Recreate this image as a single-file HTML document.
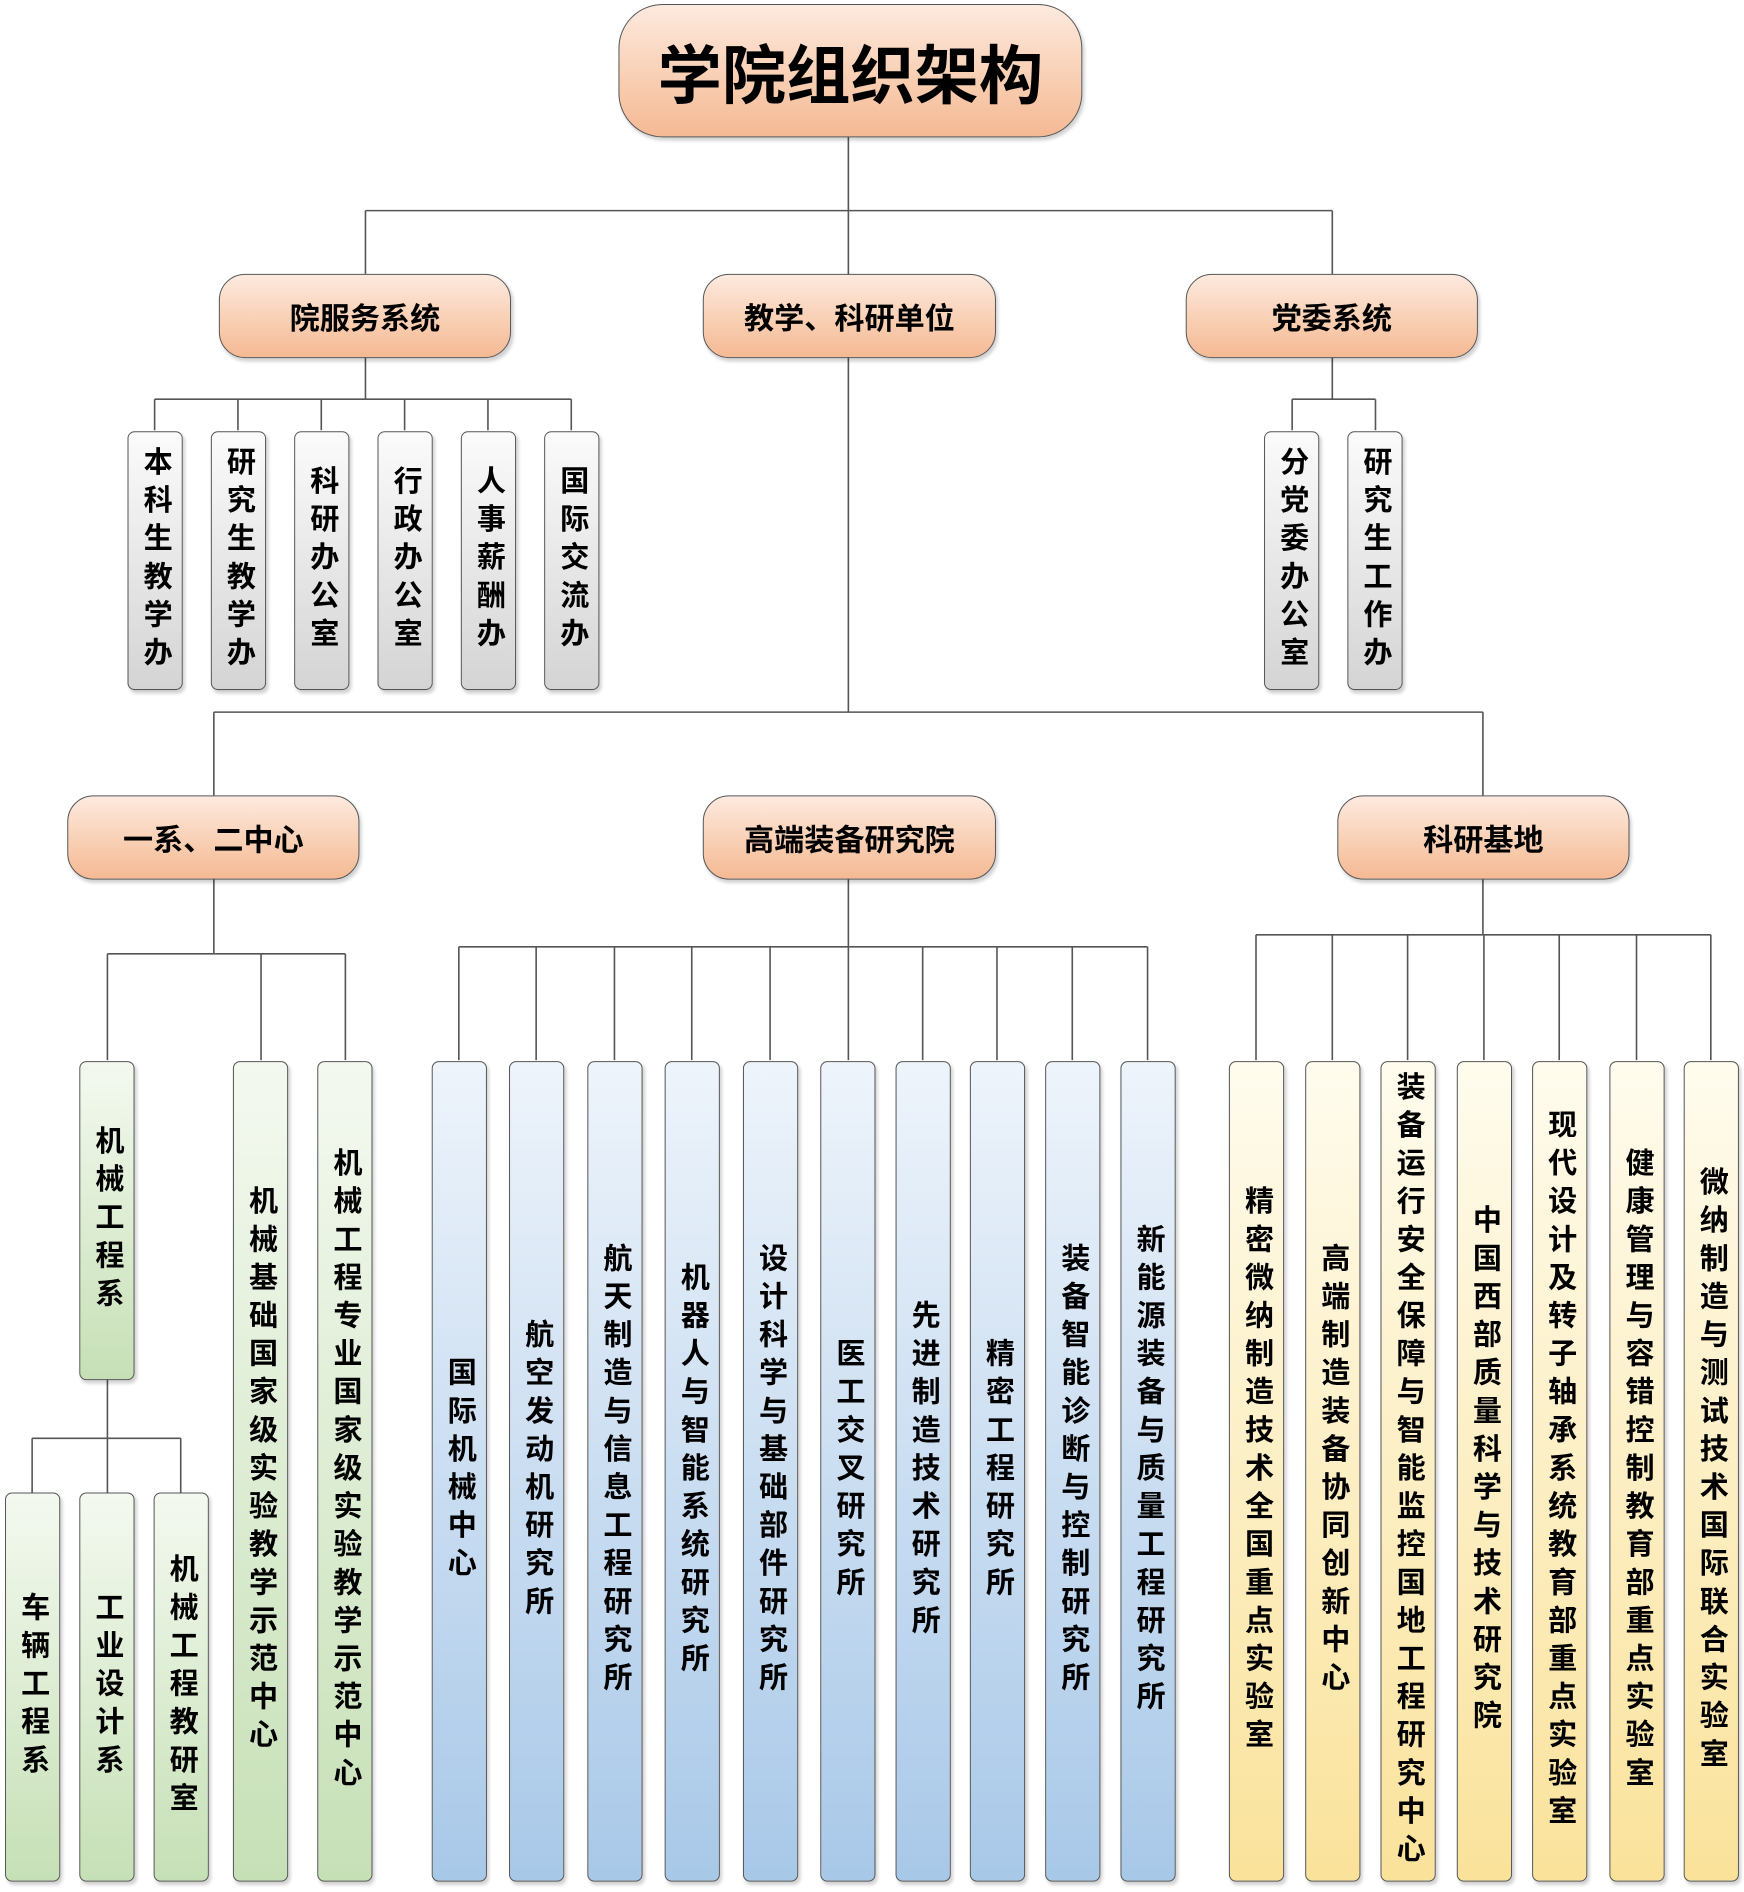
<!DOCTYPE html>
<html><head><meta charset="utf-8">
<style>
html,body{margin:0;padding:0;background:#fff;}
#w{width:1744px;height:1892px;overflow:hidden;position:relative;}
#c{position:relative;width:1744px;height:1892px;font-family:"Liberation Sans","Noto Sans CJK SC",sans-serif;font-weight:bold;color:#000;transform:scale(1.004,1.003);transform-origin:0 0;}
.b{position:absolute;box-sizing:border-box;border:1.5px solid #555;display:flex;align-items:center;justify-content:center;box-shadow:2px 3px 3px rgba(0,0,0,0.18);}
.p{background:linear-gradient(#fdeadf,#f8cdb0 60%,#f5b994);border-radius:26px;font-size:30px;}
.t{border-radius:44px;font-size:64px;}
.v{border-radius:7px;width:55px;font-size:29px;line-height:38px;}
.v span{writing-mode:vertical-rl;text-orientation:upright;letter-spacing:9px;}
.g{background:linear-gradient(#fbfbfb,#d4d4d4);}
.gr{background:linear-gradient(#f4f9f0,#c6e0b6);}
.bl{background:linear-gradient(#eef4fb,#a8c8e8);}
.y{background:linear-gradient(#fffcee,#fae29a);}
svg{position:absolute;left:0;top:0;}
</style></head><body><div id="w"><div id="c">
<svg width="1744" height="1892" stroke="#555" stroke-width="1.6" fill="none">
<path d="M845 136V710M364 210H1327M364 210V273M1327 210V273"/>
<path d="M364 356V398M154 398H569M154 398V429M237 398V429M320 398V429M403 398V429M486 398V429M569 398V429"/>
<path d="M1327 356V398M1287 398H1370M1287 398V429M1370 398V429"/>
<path d="M213 710H1477M213 710V793M1477 710V793"/>
<path d="M213 876V951M107 951H344M107 951V1057M260 951V1057M344 951V1057"/>
<path d="M107 1373V1434M32 1434H180M32 1434V1488M107 1434V1488M180 1434V1488"/>
<path d="M845 876V1057M457 944H1143M457 944V1057M534 944V1057M612 944V1057M689 944V1057M767 944V1057M919 944V1057M993 944V1057M1068 944V1057M1143 944V1057"/>
<path d="M1477 876V932M1251 932H1704M1251 932V1057M1327 932V1057M1402 932V1057M1478 932V1057M1553 932V1057M1630 932V1057M1704 932V1057"/>
</svg>
<div class="b p t" style="left:616px;top:4px;width:462px;height:133px;">学院组织架构</div>
<div class="b p" style="left:218px;top:273px;width:291px;height:84px;">院服务系统</div>
<div class="b p" style="left:700px;top:273px;width:292px;height:84px;">教学、科研单位</div>
<div class="b p" style="left:1181px;top:273px;width:291px;height:84px;">党委系统</div>
<div class="b p" style="left:67px;top:793px;width:291px;height:84px;">一系、二中心</div>
<div class="b p" style="left:700px;top:793px;width:292px;height:84px;">高端装备研究院</div>
<div class="b p" style="left:1332px;top:793px;width:291px;height:84px;">科研基地</div>

<div class="b v g" style="left:127px;top:430px;height:258px;"><span>本科生教学办</span></div>
<div class="b v g" style="left:210px;top:430px;height:258px;"><span>研究生教学办</span></div>
<div class="b v g" style="left:293px;top:430px;height:258px;"><span>科研办公室</span></div>
<div class="b v g" style="left:376px;top:430px;height:258px;"><span>行政办公室</span></div>
<div class="b v g" style="left:459px;top:430px;height:258px;"><span>人事薪酬办</span></div>
<div class="b v g" style="left:542px;top:430px;height:258px;"><span>国际交流办</span></div>
<div class="b v g" style="left:1259px;top:430px;height:258px;"><span>分党委办公室</span></div>
<div class="b v g" style="left:1342px;top:430px;height:258px;"><span>研究生工作办</span></div>

<div class="b v gr" style="left:79px;top:1058px;height:318px;"><span>机械工程系</span></div>
<div class="b v gr" style="left:232px;top:1058px;height:818px;"><span>机械基础国家级实验教学示范中心</span></div>
<div class="b v gr" style="left:316px;top:1058px;height:818px;"><span>机械工程专业国家级实验教学示范中心</span></div>
<div class="b v gr" style="left:5px;top:1488px;height:388px;"><span>车辆工程系</span></div>
<div class="b v gr" style="left:79px;top:1488px;height:388px;"><span>工业设计系</span></div>
<div class="b v gr" style="left:153px;top:1488px;height:388px;"><span>机械工程教研室</span></div>

<div class="b v bl" style="left:430px;top:1058px;height:818px;"><span>国际机械中心</span></div>
<div class="b v bl" style="left:507px;top:1058px;height:818px;"><span>航空发动机研究所</span></div>
<div class="b v bl" style="left:585px;top:1058px;height:818px;"><span>航天制造与信息工程研究所</span></div>
<div class="b v bl" style="left:662px;top:1058px;height:818px;"><span>机器人与智能系统研究所</span></div>
<div class="b v bl" style="left:740px;top:1058px;height:818px;"><span>设计科学与基础部件研究所</span></div>
<div class="b v bl" style="left:817px;top:1058px;height:818px;"><span>医工交叉研究所</span></div>
<div class="b v bl" style="left:892px;top:1058px;height:818px;"><span>先进制造技术研究所</span></div>
<div class="b v bl" style="left:966px;top:1058px;height:818px;"><span>精密工程研究所</span></div>
<div class="b v bl" style="left:1041px;top:1058px;height:818px;"><span>装备智能诊断与控制研究所</span></div>
<div class="b v bl" style="left:1116px;top:1058px;height:818px;"><span>新能源装备与质量工程研究所</span></div>

<div class="b v y" style="left:1224px;top:1058px;height:818px;"><span>精密微纳制造技术全国重点实验室</span></div>
<div class="b v y" style="left:1300px;top:1058px;height:818px;"><span>高端制造装备协同创新中心</span></div>
<div class="b v y" style="left:1375px;top:1058px;height:818px;"><span>装备运行安全保障与智能监控国地工程研究中心</span></div>
<div class="b v y" style="left:1451px;top:1058px;height:818px;"><span>中国西部质量科学与技术研究院</span></div>
<div class="b v y" style="left:1526px;top:1058px;height:818px;"><span>现代设计及转子轴承系统教育部重点实验室</span></div>
<div class="b v y" style="left:1603px;top:1058px;height:818px;"><span>健康管理与容错控制教育部重点实验室</span></div>
<div class="b v y" style="left:1677px;top:1058px;height:818px;"><span>微纳制造与测试技术国际联合实验室</span></div>
</div></div></body></html>
